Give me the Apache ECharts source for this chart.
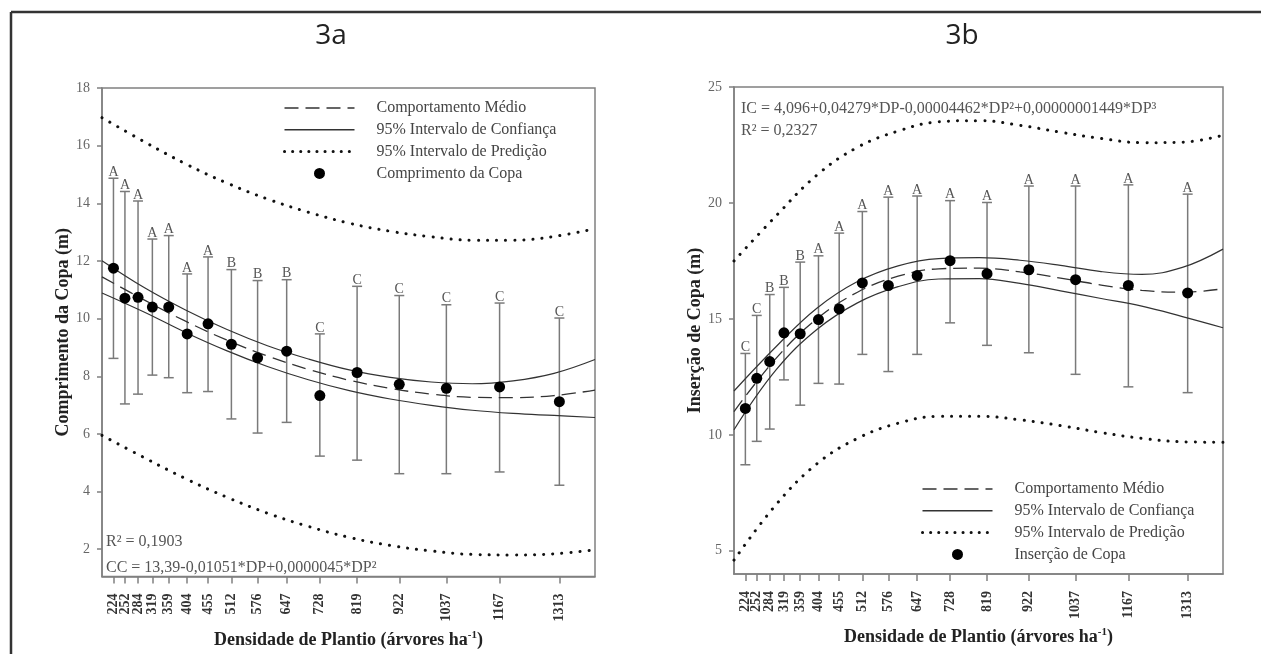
<!DOCTYPE html>
<html>
<head>
<meta charset="utf-8">
<script src="https://cdn.jsdelivr.net/npm/echarts@6/dist/echarts.min.js"></script>
<style>
  html, body { margin: 0; padding: 0; background: #fff; }
  #chart { width: 1261px; height: 654px; }
</style>
</head>
<body>
<div id="chart"></div>
<script>
// densidades de plantio (eixo x)
const densidade = [224, 252, 284, 319, 359, 404, 455, 512, 576, 647, 728, 819, 922, 1037, 1167, 1313];

// 3a - comprimento da copa
const compMedia = [11.75, 10.71, 10.74, 10.4, 10.4, 9.47, 9.82, 9.11, 8.64, 8.87, 7.33, 8.13, 7.72, 7.58, 7.63, 7.12];
const compSup = [14.87, 14.41, 14.08, 12.76, 12.88, 11.55, 12.14, 11.7, 11.32, 11.35, 9.47, 11.12, 10.8, 10.48, 10.54, 10.02];
const compInf = [8.62, 7.04, 7.38, 8.04, 7.95, 7.43, 7.47, 6.52, 6.03, 6.4, 5.23, 5.09, 4.62, 4.62, 4.68, 4.22];
const compLetras = ['A', 'A', 'A', 'A', 'A', 'A', 'A', 'B', 'B', 'B', 'C', 'C', 'C', 'C', 'C', 'C'];

// 3b - insercao de copa
const insMedia = [11.14, 12.44, 13.16, 14.4, 14.36, 14.97, 15.43, 16.55, 16.44, 16.87, 17.51, 16.95, 17.12, 16.69, 16.44, 16.12];
const insSup = [13.51, 15.15, 16.05, 16.36, 17.45, 17.72, 18.7, 19.63, 20.25, 20.3, 20.1, 20.02, 20.73, 20.73, 20.78, 20.38];
const insInf = [8.71, 9.72, 10.25, 12.37, 11.28, 12.22, 12.19, 13.47, 12.73, 13.47, 14.83, 13.86, 13.54, 12.61, 12.07, 11.82];
const insLetras = ['C', 'C', 'B', 'B', 'B', 'A', 'A', 'A', 'A', 'A', 'A', 'A', 'A', 'A', 'A', 'A'];

// curvas ajustadas
const curvaX = [196, 300, 400, 500, 600, 700, 800, 900, 1000, 1100, 1200, 1300, 1400];
const compCurva = [11.45, 10.64, 9.91, 9.26, 8.70, 8.24, 7.86, 7.58, 7.38, 7.27, 7.26, 7.33, 7.52];
const compConfSup = [12.01, 11.07, 10.30, 9.63, 9.06, 8.60, 8.22, 7.96, 7.80, 7.74, 7.84, 8.10, 8.58];
const compConfInf = [10.89, 10.22, 9.52, 8.89, 8.34, 7.88, 7.50, 7.21, 6.99, 6.82, 6.71, 6.64, 6.57];
const compPredSup = [16.97, 16.13, 15.37, 14.71, 14.15, 13.69, 13.31, 13.03, 12.84, 12.72, 12.72, 12.85, 13.12];
const compPredInf = [5.95, 5.17, 4.45, 3.81, 3.25, 2.79, 2.41, 2.13, 1.94, 1.82, 1.80, 1.84, 1.98];

const insCurva = [11.0, 13.31, 15.0, 16.15, 16.84, 17.16, 17.19, 17.03, 16.76, 16.46, 16.23, 16.15, 16.3];
const insConfSup = [11.89, 13.81, 15.46, 16.61, 17.29, 17.60, 17.64, 17.53, 17.31, 17.04, 16.92, 17.22, 18.01];
const insConfInf = [10.22, 12.81, 14.54, 15.69, 16.39, 16.72, 16.74, 16.53, 16.21, 15.88, 15.55, 15.1, 14.62];
const insPredSup = [17.5, 19.45, 21.2, 22.4, 23.1, 23.5, 23.55, 23.35, 23.05, 22.78, 22.6, 22.62, 22.92];
const insPredInf = [4.6, 7.0, 8.75, 9.85, 10.5, 10.8, 10.8, 10.65, 10.4, 10.1, 9.85, 9.7, 9.68];

const ticksA = [2, 4, 6, 8, 10, 12, 14, 16, 18];
const ticksB = [5, 10, 15, 20, 25];

const serif = '"Liberation Serif", "DejaVu Serif", serif';
const cinza = '#808080';
const pares = (xs, ys) => xs.map((x, i) => [x, ys[i]]);

const chart = echarts.init(document.getElementById('chart'));

const rotulo = {
  rotate: 90, margin: 17, hideOverlap: false, showMinLabel: true, showMaxLabel: true,
  formatter: v => String(v),
  fontFamily: serif, fontWeight: 'bold', fontSize: 14, color: '#333',
};

function xAxis(idx) {
  return {
    type: 'value', gridIndex: idx, min: 196, max: 1400,
    name: '{n|Densidade de Plantio (árvores ha}{s|-1}{n|)}',
    nameLocation: 'middle', nameGap: 46,
    nameTextStyle: {
      rich: {
        n: { fontFamily: serif, fontWeight: 'bold', fontSize: 18, color: '#222' },
        s: { fontFamily: serif, fontWeight: 'bold', fontSize: 11, color: '#222', verticalAlign: 'top', padding: [0, 0, 10, 0] },
      },
    },
    axisLine: { lineStyle: { color: cinza, width: 1.5 } },
    axisTick: { customValues: densidade, length: 7, lineStyle: { color: cinza, width: 1.5 } },
    // 252 fica num eixo a parte, senao o echarts esconde o rotulo sobreposto
    axisLabel: Object.assign({ customValues: densidade.filter(d => d !== 252) }, rotulo),
    splitLine: { show: false },
  };
}

function xAxisExtra(idx) {
  return {
    type: 'value', gridIndex: idx, min: 196, max: 1400, position: 'bottom',
    axisLine: { show: false }, axisTick: { show: false }, splitLine: { show: false },
    axisLabel: Object.assign({ customValues: [252] }, rotulo),
  };
}

function yAxis(idx, min, max, ticks, nome, gap) {
  return {
    type: 'value', gridIndex: idx, min, max,
    name: nome, nameLocation: 'middle', nameGap: gap,
    nameTextStyle: { fontFamily: serif, fontWeight: 'bold', fontSize: 18, color: '#222' },
    axisLine: { lineStyle: { color: cinza, width: 1.5 } },
    axisTick: { customValues: ticks, length: 5, lineStyle: { color: cinza, width: 1.5 } },
    axisLabel: { customValues: ticks, margin: 12, fontFamily: serif, fontSize: 14, color: '#666' },
    splitLine: { show: false },
  };
}

function barras(idx, inf, sup, letras) {
  return {
    type: 'custom', name: 'barras' + idx, xAxisIndex: idx, yAxisIndex: idx, z: 2,
    data: densidade.map((x, i) => [x, inf[i], sup[i]]),
    encode: { x: 0, y: [1, 2] },
    renderItem(params, api) {
      const x = api.value(0);
      const a = api.coord([x, api.value(2)]);
      const b = api.coord([x, api.value(1)]);
      const w = 5;
      const st = { stroke: '#7a7a7a', lineWidth: 1.5 };
      return {
        type: 'group',
        children: [
          { type: 'line', shape: { x1: a[0], y1: a[1], x2: b[0], y2: b[1] }, style: st },
          { type: 'line', shape: { x1: a[0] - w, y1: a[1], x2: a[0] + w, y2: a[1] }, style: st },
          { type: 'line', shape: { x1: b[0] - w, y1: b[1], x2: b[0] + w, y2: b[1] }, style: st },
          { type: 'text', style: { text: letras[params.dataIndex], x: a[0], y: a[1] + 1, align: 'center', verticalAlign: 'bottom', font: '14px ' + serif, fill: '#555' } },
        ],
      };
    },
  };
}

const estilos = {
  media: { color: '#333', width: 1.3, type: [14, 7] },
  conf: { color: '#333', width: 1.2, type: 'solid' },
  pred: { color: '#111', width: 3, type: [0.1, 9], cap: 'round' },
};

function linha(idx, nome, ys, tipo) {
  return {
    type: 'line', name: nome, xAxisIndex: idx, yAxisIndex: idx, z: 3,
    data: pares(curvaX, ys), smooth: 0.4,
    symbol: 'none', showSymbol: false, silent: true,
    lineStyle: estilos[tipo], itemStyle: { color: estilos[tipo].color },
  };
}

function pontos(idx, nome, media) {
  return {
    type: 'scatter', name: nome, xAxisIndex: idx, yAxisIndex: idx, z: 5,
    data: pares(densidade, media), symbolSize: 11,
    itemStyle: { color: '#000', opacity: 1 },
  };
}

const semSimbolo = (nome, tipo) => ({ name: nome, itemStyle: { opacity: 0 }, lineStyle: Object.assign({}, estilos[tipo], { width: tipo === 'pred' ? 3 : 1.5, type: tipo === 'pred' ? [0.1, 8] : estilos[tipo].type }) });

const legendaBase = {
  orient: 'vertical', itemWidth: 70, itemHeight: 11, itemGap: 5.8, padding: 0,
  textStyle: { fontFamily: serif, fontSize: 16, color: '#444', lineHeight: 12, padding: [0, 0, 0, 17] },
};

function itensLegenda(pontoNome) {
  return [
    semSimbolo('Comportamento Médio', 'media'),
    semSimbolo('95% Intervalo de Confiança', 'conf'),
    semSimbolo('95% Intervalo de Predição', 'pred'),
    pontoNome,
  ];
}

chart.setOption({
  animation: false,
  title: [
    { text: '3a', left: 326, top: 17, textAlign: 'center', textStyle: { fontFamily: '"Open Sans"', fontSize: 28, fontWeight: 'normal', color: '#222' } },
    { text: '3b', left: 957, top: 17, textAlign: 'center', textStyle: { fontFamily: '"Open Sans"', fontSize: 28, fontWeight: 'normal', color: '#222' } },
  ],
  grid: [
    { left: 102, top: 88, width: 493, height: 491, show: true, borderColor: cinza, borderWidth: 1.5 },
    { left: 734, top: 87, width: 489, height: 487, show: true, borderColor: cinza, borderWidth: 1.5 },
  ],
  xAxis: [xAxis(0), xAxis(1), xAxisExtra(0), xAxisExtra(1)],
  yAxis: [
    yAxis(0, 1.05, 18, ticksA, 'Comprimento da Copa (m)', 29),
    yAxis(1, 4, 25, ticksB, 'Inserção de Copa (m)', 25),
  ],
  legend: [
    Object.assign({}, legendaBase, { left: 283, top: 100, data: itensLegenda('Comprimento da Copa') }),
    Object.assign({}, legendaBase, { left: 921, top: 481, data: itensLegenda('Inserção de Copa') }),
  ],
  series: [
    barras(0, compInf, compSup, compLetras),
    linha(0, '95% Intervalo de Predição', compPredSup, 'pred'),
    linha(0, '95% Intervalo de Predição', compPredInf, 'pred'),
    linha(0, '95% Intervalo de Confiança', compConfSup, 'conf'),
    linha(0, '95% Intervalo de Confiança', compConfInf, 'conf'),
    linha(0, 'Comportamento Médio', compCurva, 'media'),
    pontos(0, 'Comprimento da Copa', compMedia),

    barras(1, insInf, insSup, insLetras),
    linha(1, '95% Intervalo de Predição', insPredSup, 'pred'),
    linha(1, '95% Intervalo de Predição', insPredInf, 'pred'),
    linha(1, '95% Intervalo de Confiança', insConfSup, 'conf'),
    linha(1, '95% Intervalo de Confiança', insConfInf, 'conf'),
    linha(1, 'Comportamento Médio', insCurva, 'media'),
    pontos(1, 'Inserção de Copa', insMedia),
  ],
  graphic: [
    // moldura externa
    { type: 'line', shape: { x1: 11, y1: 12, x2: 1261, y2: 12 }, style: { stroke: '#333', lineWidth: 2.5 } },
    { type: 'line', shape: { x1: 11, y1: 12, x2: 11, y2: 654 }, style: { stroke: '#333', lineWidth: 2.5 } },
    // equacoes
    { type: 'text', left: 106, top: 534, style: { text: 'R² = 0,1903', font: '16px ' + serif, fill: '#555' } },
    { type: 'text', left: 106, top: 560, style: { text: 'CC = 13,39-0,01051*DP+0,0000045*DP²', font: '16px ' + serif, fill: '#555' } },
    { type: 'text', left: 741, top: 101, style: { text: 'IC = 4,096+0,04279*DP-0,00004462*DP²+0,00000001449*DP³', font: '16px ' + serif, fill: '#555' } },
    { type: 'text', left: 741, top: 123, style: { text: 'R² = 0,2327', font: '16px ' + serif, fill: '#555' } },
  ],
});
</script>
</body>
</html>
